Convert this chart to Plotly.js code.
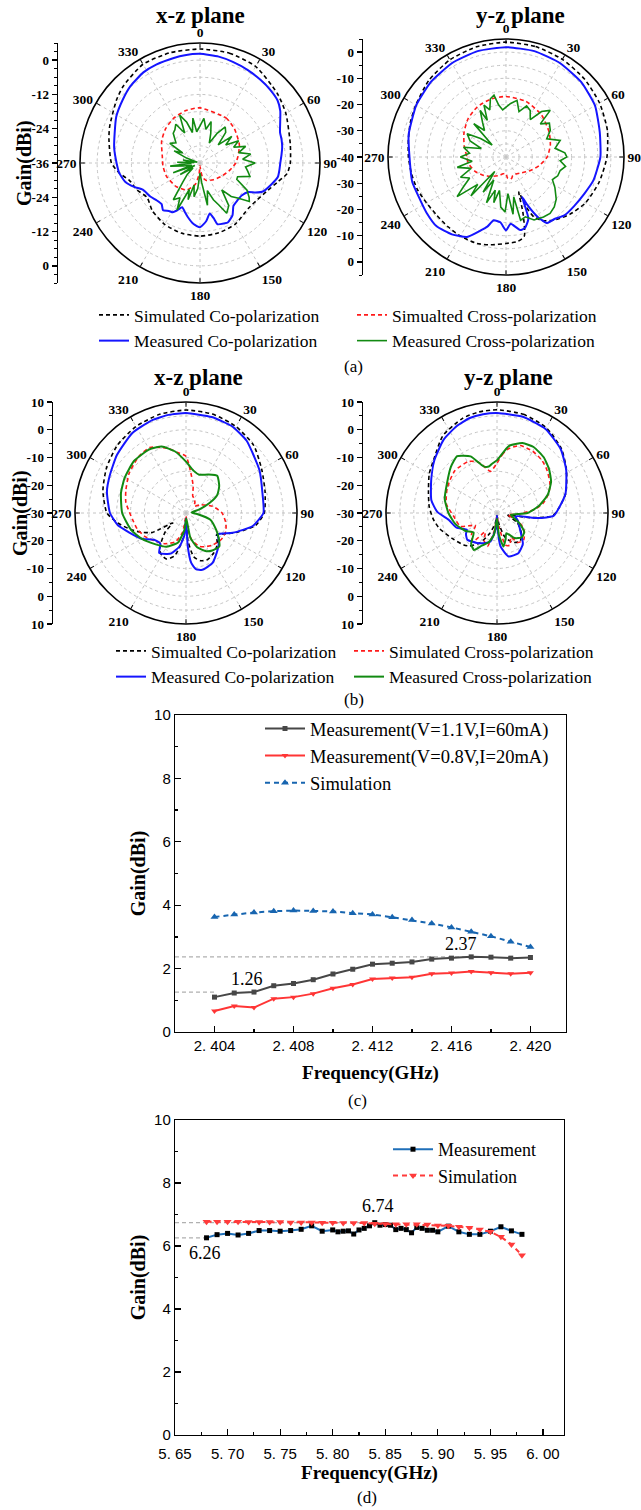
<!DOCTYPE html>
<html><head><meta charset="utf-8">
<script src="https://cdn.plot.ly/plotly-3.0.1.min.js"></script>
<style>html,body{margin:0;padding:0;background:#fff}#chart{width:641px;height:1510px}</style>
</head><body><div id="chart"></div>
<script>
// ---------------- DATA ----------------
// common angular tick labels
const angTicks = [0,30,60,90,120,150,180,210,240,270,300,330];

// Panel (a) x-z plane (dBi)
const aXZ_simCo_theta = [0,15,30,48,60,78,90,97,104,112,122,133,150,165,180,195,210,225,237,247,256,263,270,285,292,307,315,330,345,360];
const aXZ_simCo_r = [3.9,3.8,3.0,0.4,-1.3,-3.7,-4.4,-5.3,-8.1,-10.4,-12.1,-12.8,-11.3,-10.7,-10.4,-10.6,-11.2,-12.4,-13.9,-12.0,-10.6,-7.5,-5.0,-3.0,-1.9,0.6,2.0,3.9,4.0,3.9];
const aXZ_simX_theta = [0,30,45,65,80,90,103,120,141,160,170,176,180,185,192,206,225,248,265,280,300,315,330,345,360];
const aXZ_simX_r = [-16.7,-17.8,-19.0,-20.8,-22.5,-23.5,-25.2,-27.0,-28.5,-29.5,-31.0,-34.0,-35.0,-32.0,-28.5,-25.5,-24.3,-23.4,-23.0,-22.6,-20.5,-19.0,-17.8,-17.0,-16.7];
const aXZ_meaCo_theta = [0,10,18,27,36,44,51,57,63,69,74,79,84,90,95,100,107,114,118,121,128,135,142,148,155,158,164,166,169,174,180,186,193,197,202,206,209,213,218,223,229,236,245,250,256,263,270,280,289,299,309,318,328,336,346,352,360];
const aXZ_meaCo_r = [2.2,1.8,1.2,0.6,0.0,-0.5,-1.1,-2.5,-4.5,-6.0,-6.3,-6.7,-7.3,-7.9,-8.1,-8.3,-10.0,-11.7,-14.0,-16.3,-17.5,-17.5,-17.0,-14.5,-13.0,-13.2,-13.7,-16.0,-18.0,-15.5,-13.5,-14.5,-16.7,-18.0,-19.3,-17.5,-16.3,-16.0,-15.0,-16.3,-16.0,-15.0,-13.9,-11.5,-9.0,-7.5,-6.8,-5.5,-4.4,-2.5,-1.1,0.3,1.4,1.7,1.9,2.1,2.2];
const aXZ_meaX_theta = [0,5,10,15,20,25,30,35,40,45,50,55,60,65,70,75,80,85,90,95,100,105,110,114,120,125,128,133,137,141,146,152,156,160,165,170,175,180,185,190,195,198,202,206,210,216,222,228,235,240,245,250,255,260,264,268,272,276,280,285,290,295,300,303,310,318,323,328,333,337,342,346,351,354,360];
const aXZ_meaX_r = [-23,-20.3,-24,-21,-25,-28.3,-24,-20.6,-22,-27,-21.5,-25,-20.4,-23,-19,-22,-18,-21,-16.7,-20,-19,-17.9,-22,-21.9,-17,-15,-14.1,-18,-20,-23.9,-18,-16.1,-20,-22.3,-26,-21,-29,-32.5,-27,-24,-28,-22.5,-26,-17.7,-22,-20.1,-27,-30,-33,-28,-34,-26,-33,-30,-25.5,-33,-28,-34,-30,-35,-31,-26,-29,-23.4,-25,-22,-21.4,-20,-24.2,-17.8,-21,-25,-20.1,-25,-23];

// Panel (a) y-z plane
const aYZ_simCo_theta = [0,15,30,45,60,75,90,105,120,132,143,150,155,158,160,163,167,172,180,190,198.5,210,220,230,240,250,260,270,280,290,300,315,330,345,360];
const aYZ_simCo_r = [3.8,3.6,3.0,2.2,1.2,0.0,-1.5,-3.2,-5.0,-7.3,-9.8,-12,-14.8,-19.4,-25.8,-18,-9,-7.5,-7,-6,-5.2,-5.2,-5.4,-5.5,-5,-4,-3.4,-2.8,-2.2,-1.2,-0.3,1.5,2.8,3.5,3.8];
const aYZ_simX_theta = [0,20,40,60,75,90,105,120,135,150,160,165,170,176,180,190,200,215,230,245,260,270,285,300,315,330,345,360];
const aYZ_simX_r = [-16.9,-17.5,-19,-21,-22.5,-24.3,-27,-29.5,-31.5,-32.5,-32.5,-31.6,-31.4,-32,-33.7,-33.5,-32.5,-31,-29,-27,-25.5,-25.1,-23.5,-21.5,-19.5,-18,-17.2,-16.9];
const aYZ_meaCo_theta = [0,15,30,45,60,75,90,105,115,126,135,142,148,152,156,158,160,165,169,172,176,180,185,191,195,199,206,215,225,235,243,255,270,283,300,315,330,345,360];
const aYZ_meaCo_r = [1.9,1.8,1.3,0.5,-0.8,-3,-4,-5.5,-7,-8,-8.5,-10,-10.3,-14,-20,-23.6,-15,-12,-11.6,-13,-14.5,-12,-15,-15.4,-12.5,-10.4,-6.1,-4,-2.6,-3,-3.4,-3,-3.2,-1.9,-0.5,0.5,1.3,1.8,1.9];
const aYZ_meaX_theta = [0,5,11,16,22,27.5,33,38,43.5,46,52,59,66,73,80,86,90,94,99,104,110,116,122,130,136,142,148,156,162,167,169,173,177,181,186,191,195,198,203,208,213,218,222,226,231,235,240,246,252,258,263,270,276,283,289,294,301,306,311,316,321,326,331,333,337,341,345,349,352,356,360];
const aYZ_meaX_r = [-21,-19.5,-18,-22,-19,-20,-23,-18,-15.5,-21.8,-19,-20.3,-23,-18.4,-21,-17.5,-16.8,-19.3,-17,-18.7,-19,-20.3,-18,-15,-13.5,-12.7,-13,-13.7,-16,-15.3,-24.5,-18,-26,-19,-20.8,-27,-22,-26.7,-21,-30,-24,-33,-20,-25,-16,-20.2,-24,-21,-26,-21,-27,-22.6,-26,-23.4,-30,-25,-22.7,-28,-33,-22.3,-27,-24,-19.7,-24.3,-18.5,-21,-17,-16,-20,-22,-21];

// Panel (b) x-z plane
const bXZ_simCo_theta = [0,15,30,45,60,75,90,100,110,118,125,135,145,155,163,170,176,180,185,190,195,203,210,215,220,228,233,240,248,255,262,270,285,300,315,330,345,360];
const bXZ_simCo_r = [7.1,6.9,6.0,4.5,1.5,-0.5,-1.8,-4.5,-10,-14,-16.5,-14,-12.5,-11.5,-12,-14,-20,-28,-22,-18,-14,-12,-12.5,-13.5,-16,-20,-24,-16,-11.8,-8.5,-5,-1.5,1,3,4.8,6,6.8,7.1];
const bXZ_simX_theta = [0,7,15,22,30,40,51,60,76,90,104,115,127,140,150,158,168,175,180,190,200,215,227,240,252,263,280,291,305,320,331,338,345,352,360];
const bXZ_simX_r = [-9.6,-15.5,-20,-23.5,-24,-25,-26.2,-24,-20.1,-17,-15.2,-14.2,-14.1,-15,-16,-17,-20,-25,-29,-23,-19,-16.5,-15.1,-13,-11.5,-10.6,-8,-6.8,-5,-3.5,-3,-4.5,-6,-8,-9.6];
const bXZ_meaCo_theta = [0,15,28,40,48,60,75,90,101,113,124,130,139,152,164,170,174,177,180,184,191,200,206,214,220,230,240,251,260,270,285,296,310,326,340,350,360];
const bXZ_meaCo_r = [6.0,5.8,5.4,4.0,2.3,0.6,-1.5,-2.1,-5.5,-11.7,-16.2,-14.5,-12.6,-9.6,-8.7,-9.5,-11.9,-18,-28,-22,-17.7,-14.5,-13.6,-12.7,-15.6,-15,-11.5,-8.4,-5,-2.6,-0.5,0.6,2.5,4.7,5.6,5.9,6.0];
const bXZ_meaX_theta = [0,10,19,30,40,51,60,67,75,85,95,105,119,128,135,145,152,162,170,177,185,195,210,224,240,253,270,287,300,315,330,340,350,360];
const bXZ_meaX_r = [-11.5,-14.5,-15.4,-14,-12.5,-14.6,-17,-20.8,-25,-28,-26,-21,-17.6,-15,-13,-13.5,-14.4,-17,-21,-28,-24,-19,-16,-14.3,-11.5,-9.3,-7,-5.5,-4.5,-3.5,-3.5,-4.5,-7.5,-11.5];

// Panel (b) y-z plane
const bYZ_simCo_theta = [0,15,30,45,58,74,85,93,98,102,115,130,141,152,162,170,180,190,200,210,220,226,240,255,264,275,286,300,310,325,340,350,360];
const bYZ_simCo_r = [7.2,6.8,5.5,2.8,-0.5,-4.2,-7.5,-10,-18,-26,-22,-18.5,-16.8,-18,-21,-26,-29,-26,-22,-17.5,-14.5,-13.4,-11.5,-8.5,-7,-5.5,-4.3,-1.8,-0.2,4,6.3,7,7.2];
const bYZ_simX_theta = [0,5,10,19,30,40,49,60,69,78,85,92,100,110,122,135,145,150,158,165,172,180,188,196,205,212,220,230,240,250,266,280,297,315,331,340,351,355,360];
const bYZ_simX_r = [-12,-9,-6.5,-4.3,-4.3,-5,-6.2,-8,-10,-13,-16.7,-22,-26,-22,-18.5,-16.4,-17,-20,-17.5,-18,-25,-29,-24,-17.5,-19,-22,-16.5,-18,-21,-16,-14.3,-11.5,-9.9,-8.5,-8.8,-10.5,-14.8,-14,-12];
const bYZ_meaCo_theta = [0,15,30,45,58,74,85,93,97,100,110,126,140,152,165,174,178,180,185,193,201,214,228,236,241,250,262,271,281,297,310,324,335,344,352,360];
const bYZ_meaCo_r = [6,5.9,5,2.5,-0.6,-4.3,-7.5,-9.6,-15,-23.3,-22,-19.7,-15.5,-13.6,-13.8,-17.9,-25,-29,-24,-19.5,-18.4,-17,-15.6,-16.5,-17.6,-14.5,-12.4,-8.5,-5.9,-3.4,-0.5,2.7,4.5,5.6,5.9,6];
const bYZ_meaX_theta = [0,10,20,29,40,50,60,70,80,90,98,105,115,125,135,145,155,162,169,175,180,188,196,205,212,220,230,240,255,270,285,301,315,325,335,344,350,355,360];
const bYZ_meaX_r = [-11,-5.5,-3.2,-2.8,-3.8,-5.5,-7.5,-10.5,-14.5,-19,-25,-24,-21,-18,-17.5,-19,-22,-20,-17.7,-22,-28,-22,-19,-17,-14.3,-15.5,-19,-17,-14.5,-12.5,-10.5,-9,-6.5,-5,-7.5,-12.5,-13,-12,-11];

// radial scale labels (left-hand axes of the polar plots)
const aXZ_radTicks = [0,-12,-24,-36];
const aYZ_radTicks = [0,-10,-20,-30,-40];
const b_radTicks = [10,0,-10,-20,-30];

// Panel (c) 2.4 GHz
const freqC = [2.404,2.405,2.406,2.407,2.408,2.409,2.410,2.411,2.412,2.413,2.414,2.415,2.416,2.417,2.418,2.419,2.420];
const gainC11 = [1.10,1.23,1.26,1.46,1.53,1.65,1.83,1.98,2.14,2.17,2.21,2.30,2.33,2.37,2.36,2.33,2.35];
const gainC08 = [0.66,0.82,0.77,1.05,1.10,1.21,1.38,1.50,1.67,1.70,1.73,1.84,1.86,1.91,1.87,1.84,1.87];
const simC = [3.63,3.71,3.77,3.81,3.83,3.82,3.80,3.75,3.71,3.62,3.53,3.42,3.30,3.16,3.02,2.85,2.68];
const cTickVals = [2.404,2.408,2.412,2.416,2.420];
const cTickText = ['2. 404','2. 408','2. 412','2. 416','2. 420'];

// Panel (d) 5.8 GHz
const freqDm = [5.68,5.69,5.70,5.71,5.72,5.73,5.74,5.75,5.76,5.77,5.78,5.79,5.80,5.805,5.81,5.815,5.82,5.825,5.83,5.835,5.84,5.845,5.85,5.855,5.86,5.865,5.87,5.875,5.88,5.885,5.89,5.895,5.90,5.91,5.92,5.93,5.94,5.95,5.96,5.97,5.98];
const measD = [6.26,6.36,6.40,6.35,6.40,6.49,6.49,6.47,6.49,6.53,6.64,6.47,6.51,6.45,6.47,6.48,6.38,6.51,6.56,6.64,6.74,6.66,6.68,6.66,6.52,6.56,6.52,6.42,6.59,6.56,6.50,6.50,6.45,6.63,6.45,6.37,6.37,6.47,6.61,6.48,6.37];
const freqDs = [5.68,5.69,5.70,5.71,5.72,5.73,5.74,5.75,5.76,5.77,5.78,5.79,5.80,5.81,5.82,5.83,5.84,5.85,5.86,5.87,5.88,5.89,5.90,5.91,5.92,5.93,5.94,5.95,5.96,5.97,5.98];
const simD = [6.77,6.77,6.77,6.77,6.76,6.76,6.76,6.76,6.75,6.75,6.75,6.74,6.74,6.73,6.73,6.73,6.71,6.70,6.69,6.69,6.69,6.68,6.65,6.64,6.61,6.58,6.52,6.45,6.29,6.05,5.71];
const dTickVals = [5.65,5.70,5.75,5.80,5.85,5.90,5.95,6.00];
const dTickText = ['5. 65','5. 70','5. 75','5. 80','5. 85','5. 90','5. 95','6. 00'];

// ---------------- LAYOUT HELPERS ----------------
const W = 641, H = 1510;
const px = p => p / W;
const py = p => 1 - p / H;
const SERIF = 'Liberation Serif';
const SANS = 'Liberation Sans';

const polars = [
  {id:'polar',  cx:200, cy:163, R:120, range:[-36,6],  grid:6, ticks:aXZ_radTicks, axX:58,  minor:3},
  {id:'polar2', cx:506, cy:157, R:118, range:[-40,5],  grid:5, ticks:aYZ_radTicks, axX:363, minor:5},
  {id:'polar3', cx:186, cy:513, R:111, range:[-30,10], grid:5, ticks:b_radTicks,   axX:53,  minor:5},
  {id:'polar4', cx:497, cy:513, R:111, range:[-30,10], grid:5, ticks:b_radTicks,   axX:363, minor:5}
];

const layout = {
  width: W, height: H,
  margin: {l:0, r:0, t:0, b:0},
  paper_bgcolor: '#fff', plot_bgcolor: 'rgba(0,0,0,0)',
  font: {family: SERIF, color: '#000'},
  showlegend: true,
  annotations: [], shapes: []
};

polars.forEach((p, i) => {
  const yDom = [py(p.cy + p.R), py(p.cy - p.R)];
  layout[p.id] = {
    domain: {x: [px(p.cx - p.R), px(p.cx + p.R)], y: yDom},
    bgcolor: 'rgba(0,0,0,0)',
    radialaxis: {range: p.range, showticklabels: false, ticks: '', showline: false,
      tick0: p.range[0], dtick: p.grid, gridcolor: '#c4c4c4', griddash: 'dot', gridwidth: 1},
    angularaxis: {rotation: 90, direction: 'clockwise', tickmode: 'array',
      tickvals: angTicks, ticktext: angTicks.map(String),
      showline: true, linecolor: '#000', linewidth: 1.6, ticks: 'inside', ticklen: 4, tickcolor: '#000',
      gridcolor: '#c4c4c4', griddash: 'dot', gridwidth: 1,
      tickfont: {family: SERIF, size: 13.5, color: '#000', weight: 'bold'}}
  };
  // mirrored left-hand gain scale for this polar plot
  const span = p.range[1] - p.range[0];
  const vals = [], txt = [];
  p.ticks.forEach(t => { const o = t - p.range[0]; vals.push(o); txt.push(String(t)); if (o !== 0) { vals.push(-o); txt.push(String(t)); } });
  const n = i + 3;
  layout['xaxis' + n] = {domain: [px(p.axX), px(p.axX) + 0.02], visible: false, anchor: 'y' + n, range: [0, 1], fixedrange: true};
  layout['yaxis' + n] = {domain: yDom, anchor: 'x' + n, range: [-span, span], tickmode: 'array', tickvals: vals, ticktext: txt,
    showline: true, linecolor: '#000', linewidth: 1.5, ticks: 'outside', ticklen: 5, tickwidth: 1.3, tickcolor: '#000',
    minor: {tickmode: 'linear', tick0: 0, dtick: p.minor, ticks: 'outside', ticklen: 3, tickcolor: '#000', tickwidth: 1},
    showgrid: false, zeroline: false, tickfont: {family: SERIF, size: 13, color: '#000', weight: 'bold'}, fixedrange: true};
});

// ---------------- TRACES ----------------
const data = [];
const stSimCo = {color: '#000000', width: 1.6, dash: '4px,3px', shape: 'spline', smoothing: 0.6};
const stSimX  = {color: '#ff1a1a', width: 1.6, dash: '4px,3px', shape: 'spline', smoothing: 0.6};
const stMeaCo = {color: '#1515ff', width: 2,   shape: 'spline', smoothing: 0.5};
const stMeaX  = {color: '#128a12', width: 1.6};

function pol(theta, r, name, style, subplot, legendId, show) {
  data.push({type: 'scatterpolar', mode: 'lines', theta: theta, r: r, name: name, subplot: subplot,
    line: style, showlegend: show, legend: legendId, hoverinfo: 'skip', cliponaxis: true});
}
// (a)
pol(aXZ_simCo_theta, aXZ_simCo_r, 'Simulated Co-polarization', stSimCo, 'polar', 'legend', true);
pol(aXZ_simX_theta, aXZ_simX_r, 'Simualted Cross-polarization', stSimX, 'polar', 'legend', true);
pol(aXZ_meaCo_theta, aXZ_meaCo_r, 'Measured Co-polarization', stMeaCo, 'polar', 'legend', true);
pol(aXZ_meaX_theta, aXZ_meaX_r, 'Measured Cross-polarization', stMeaX, 'polar', 'legend', true);
pol(aYZ_simCo_theta, aYZ_simCo_r, 'sim co', stSimCo, 'polar2', 'legend', false);
pol(aYZ_simX_theta, aYZ_simX_r, 'sim x', stSimX, 'polar2', 'legend', false);
pol(aYZ_meaCo_theta, aYZ_meaCo_r, 'mea co', stMeaCo, 'polar2', 'legend', false);
pol(aYZ_meaX_theta, aYZ_meaX_r, 'mea x', stMeaX, 'polar2', 'legend', false);
// (b)  - two legend columns
const stMeaXb = {color: '#128a12', width: 2, shape: 'spline', smoothing: 0.5};
pol(bXZ_simCo_theta, bXZ_simCo_r, 'Simualted Co-polarization', stSimCo, 'polar3', 'legend2', true);
pol(bXZ_simX_theta, bXZ_simX_r, 'Simulated Cross-polarization', stSimX, 'polar3', 'legend5', true);
pol(bXZ_meaCo_theta, bXZ_meaCo_r, 'Measured Co-polarization', stMeaCo, 'polar3', 'legend2', true);
pol(bXZ_meaX_theta, bXZ_meaX_r, 'Measured Cross-polarization', stMeaXb, 'polar3', 'legend5', true);
pol(bYZ_simCo_theta, bYZ_simCo_r, 'sim co', stSimCo, 'polar4', 'legend2', false);
pol(bYZ_simX_theta, bYZ_simX_r, 'sim x', stSimX, 'polar4', 'legend2', false);
pol(bYZ_meaCo_theta, bYZ_meaCo_r, 'mea co', stMeaCo, 'polar4', 'legend2', false);
pol(bYZ_meaX_theta, bYZ_meaX_r, 'mea x', stMeaXb, 'polar4', 'legend2', false);

// dummy traces so that the left gain scales get drawn
[3,4,5,6].forEach(n => data.push({type: 'scatter', x: [null], y: [null], xaxis: 'x' + n, yaxis: 'y' + n, showlegend: false, hoverinfo: 'skip'}));

// (c)
data.push({type: 'scatter', mode: 'lines+markers', x: freqC, y: gainC11, name: 'Measurement(V=1.1V,I=60mA)',
  line: {color: '#474747', width: 2}, marker: {symbol: 'square', size: 5, color: '#474747'}, legend: 'legend3', xaxis: 'x', yaxis: 'y'});
data.push({type: 'scatter', mode: 'lines+markers', x: freqC, y: gainC08, name: 'Measurement(V=0.8V,I=20mA)',
  line: {color: '#ff3535', width: 2}, marker: {symbol: 'triangle-down', size: 6, color: '#ff3535'}, legend: 'legend3', xaxis: 'x', yaxis: 'y'});
data.push({type: 'scatter', mode: 'lines+markers', x: freqC, y: simC, name: 'Simulation',
  line: {color: '#1765b0', width: 2, dash: '5px,4px'}, marker: {symbol: 'triangle-up', size: 7, color: '#1765b0'}, legend: 'legend3', xaxis: 'x', yaxis: 'y'});
// (d)
data.push({type: 'scatter', mode: 'lines+markers', x: freqDm, y: measD, name: 'Measurement',
  line: {color: '#1f6fb8', width: 2}, marker: {symbol: 'square', size: 5, color: '#000'}, legend: 'legend4', xaxis: 'x2', yaxis: 'y2'});
data.push({type: 'scatter', mode: 'lines+markers', x: freqDs, y: simD, name: 'Simulation',
  line: {color: '#ff3b3b', width: 2, dash: '5px,4px'}, marker: {symbol: 'triangle-down', size: 7, color: '#ff3b3b'}, legend: 'legend4', xaxis: 'x2', yaxis: 'y2'});

// cartesian axes
const tickFontS = {family: SANS, size: 15, color: '#000'};
const axTitleFont = {family: SERIF, size: 19, color: '#000', weight: 'bold'};
function xAx(dom, range, vals, txt, minorD, anchor, standoff, labelOff) {
  return {domain: dom, range: range, anchor: anchor, tickmode: 'array', tickvals: vals, ticktext: txt,
    ticks: 'inside', ticklen: 6, tickcolor: '#000', tickwidth: 1.2, showline: true, mirror: true, linecolor: '#000', linewidth: 1.2,
    minor: {tickmode: 'linear', tick0: range[0], dtick: minorD, ticks: 'inside', ticklen: 3, tickcolor: '#000'},
    showgrid: false, zeroline: false, tickfont: tickFontS, ticklabelstandoff: labelOff,
    title: {text: 'Frequency(GHz)', font: axTitleFont, standoff: standoff}, fixedrange: true};
}
function yAx(dom, anchor) {
  return {domain: dom, range: [0, 10], anchor: anchor, dtick: 2, tick0: 0,
    ticks: 'inside', ticklen: 6, tickcolor: '#000', tickwidth: 1.2, showline: true, mirror: true, linecolor: '#000', linewidth: 1.2,
    minor: {dtick: 1, ticks: 'inside', ticklen: 3, tickcolor: '#000'},
    showgrid: false, zeroline: false, tickfont: tickFontS,
    title: {text: 'Gain(dBi)', font: {family: SERIF, size: 20, color: '#000', weight: 'bold'}, standoff: 3}, fixedrange: true};
}
layout.xaxis  = xAx([px(175), px(566)], [2.402, 2.4218], cTickVals, cTickText, 0.002, 'y', 12, 0);
layout.yaxis  = yAx([py(1032), py(715)], 'x');
layout.xaxis2 = xAx([px(175), px(564)], [5.65, 6.02], dTickVals, dTickText, 0.025, 'y2', 3, 5);
layout.yaxis2 = yAx([py(1435), py(1120)], 'x2');

// legends
const legFont = {family: SERIF, size: 17.5, color: '#000'};
const legBase = {xanchor: 'left', yanchor: 'top', font: legFont, bgcolor: 'rgba(0,0,0,0)', tracegroupgap: 0, itemwidth: 30};
layout.legend  = Object.assign({}, legBase, {orientation: 'h', x: px(94), y: py(297), entrywidth: 213});
layout.legend2 = Object.assign({}, legBase, {orientation: 'v', x: px(111), y: py(633)});
layout.legend5 = Object.assign({}, legBase, {orientation: 'v', x: px(349), y: py(633)});
layout.legend3 = {orientation: 'v', x: px(260), y: py(710), xanchor: 'left', yanchor: 'top', font: {family: SERIF, size: 18.5, color: '#000'}, bgcolor: 'rgba(0,0,0,0)', tracegroupgap: 0, itemwidth: 40};
layout.legend4 = {orientation: 'v', x: px(388), y: py(1131), xanchor: 'left', yanchor: 'top', font: {family: SERIF, size: 18, color: '#000'}, bgcolor: 'rgba(0,0,0,0)', tracegroupgap: 0, itemwidth: 40};

// annotations: titles, captions, gain labels
const ann = layout.annotations;
function txt(x, y, text, size, bold, extra) {
  ann.push(Object.assign({xref: 'paper', yref: 'paper', x: px(x), y: py(y), text: text, showarrow: false,
    xanchor: 'center', yanchor: 'middle', font: {family: SERIF, size: size, color: '#000', weight: bold ? 'bold' : 'normal'}}, extra || {}));
}
txt(200, 15, 'x-z plane', 23, true);
txt(520, 15, 'y-z plane', 23, true);
txt(198, 377, 'x-z plane', 23, true);
txt(508, 377, 'y-z plane', 23, true);
txt(25, 163, 'Gain(dBi)', 20, true, {textangle: -90});
txt(20, 513, 'Gain(dBi)', 20, true, {textangle: -90});
txt(354, 366, '(a)', 17, false);
txt(354, 700, '(b)', 17, false);
txt(357, 1100, '(c)', 17, false);
txt(367, 1497, '(d)', 17, false);

// value call-outs
const lblFont = {family: SERIF, size: 18, color: '#000'};
ann.push({xref: 'x', yref: 'y', x: freqC[2], y: gainC11[2], text: gainC11[2].toFixed(2), showarrow: false, xshift: -7, yshift: 13, font: lblFont});
ann.push({xref: 'x', yref: 'y', x: freqC[13], y: gainC11[13], text: gainC11[13].toFixed(2), showarrow: false, xshift: -10, yshift: 13, font: lblFont});
ann.push({xref: 'x2', yref: 'y2', x: freqDm[0], y: measD[0], text: measD[0].toFixed(2), showarrow: false, xshift: -2, yshift: -15, font: lblFont});
ann.push({xref: 'x2', yref: 'y2', x: freqDm[20], y: measD[20], text: measD[20].toFixed(2), showarrow: false, xshift: 3, yshift: 17, font: lblFont});

const dashG = {color: '#b0b0b0', width: 1.2, dash: '4px,3px'};
layout.shapes.push({type: 'line', xref: 'x', yref: 'y', x0: layout.xaxis.range[0], x1: freqC[0], y0: gainC11[2], y1: gainC11[2], line: dashG, layer: 'below'});
layout.shapes.push({type: 'line', xref: 'x', yref: 'y', x0: layout.xaxis.range[0], x1: freqC[13], y0: gainC11[13], y1: gainC11[13], line: dashG, layer: 'below'});
layout.shapes.push({type: 'line', xref: 'x2', yref: 'y2', x0: layout.xaxis2.range[0], x1: freqDm[0], y0: measD[0], y1: measD[0], line: dashG, layer: 'below'});
layout.shapes.push({type: 'line', xref: 'x2', yref: 'y2', x0: layout.xaxis2.range[0], x1: freqDm[20], y0: measD[20], y1: measD[20], line: dashG, layer: 'below'});

Plotly.newPlot('chart', data, layout, {displayModeBar: false, staticPlot: true});
</script></body></html>
